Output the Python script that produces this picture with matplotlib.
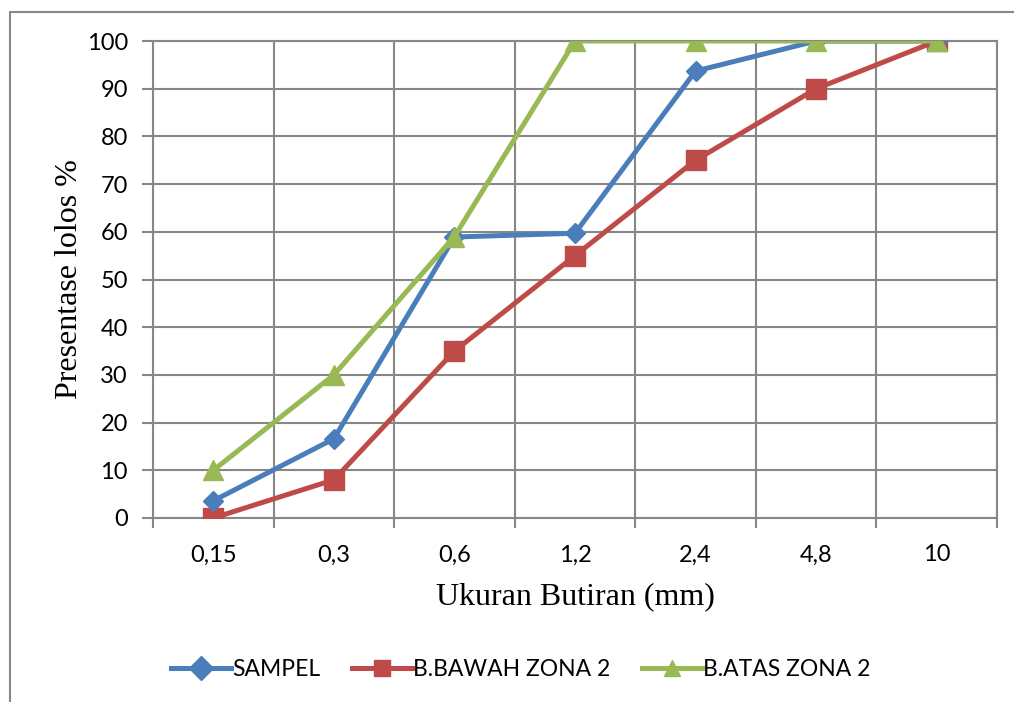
import numpy as np
import matplotlib.pyplot as plt
from matplotlib.patches import Rectangle

# sieve sizes (mm) and percent passing
sizes = ['0,15', '0,3', '0,6', '1,2', '2,4', '4,8', '10']
sampel = [3.6, 16.6, 58.9, 59.7, 93.7, 100, 100]
bawah = [0, 8, 35, 55, 75, 90, 100]
atas = [10, 30, 59, 100, 100, 100, 100]

grid_c = '#878787'

fig = plt.figure(figsize=(10.14, 7.02), dpi=100)
ax = fig.add_axes([153/1014, 1 - 518/702, (997 - 153)/1014, (518 - 41)/702])

# outer chart frame (partly cut off in the original)
fig.patches.append(Rectangle((10/1014, -0.1), 1.2, 1 - 12/702 + 0.1,
                             transform=fig.transFigure, fill=False,
                             edgecolor=grid_c, lw=1.5))

x = np.arange(len(sizes))
ax.plot(x, sampel, color='#4A7EBB', lw=3.6, marker='D', ms=10.5,
        label='SAMPEL', zorder=5)
ax.plot(x, bawah, color='#BE4B48', lw=3.6, marker='s', ms=14,
        label='B.BAWAH ZONA 2', zorder=4)
ax.plot(x, atas, color='#98B954', lw=3.6, marker='^', ms=14,
        label='B.ATAS ZONA 2', zorder=6)

ax.set_xlim(-0.5, len(sizes) - 0.5)
ax.set_ylim(0, 100)
ax.set_yticks(np.arange(0, 101, 10))
ax.set_xticks(x)
ax.set_xticklabels(sizes)
ax.set_xticks(np.arange(-0.5, len(sizes)), minor=True)

ax.grid(True, which='major', axis='y', color=grid_c, lw=1.5)
ax.grid(True, which='minor', axis='x', color=grid_c, lw=1.5)
ax.set_axisbelow(True)
for s in ax.spines.values():
    s.set_color(grid_c)
    s.set_linewidth(1.5)

ax.tick_params(axis='x', which='major', length=0, pad=19, labelsize=17)
ax.tick_params(axis='x', which='minor', length=7, width=1.5, color=grid_c)
ax.tick_params(axis='y', length=8, width=1.5, color=grid_c, pad=10, labelsize=17)
for lab in ax.get_xticklabels() + ax.get_yticklabels():
    lab.set_family(['Lato', 'DejaVu Sans'])

ax.set_xlabel('Ukuran Butiran (mm)', family='Liberation Serif', fontsize=23, labelpad=12)
ax.set_ylabel('Presentase lolos %', family='Liberation Serif', fontsize=23, labelpad=2)

leg = fig.legend(loc='center', bbox_to_anchor=(521/1014, 1 - 670/702), ncol=3,
                 frameon=False, handlelength=2.6, columnspacing=1.4,
                 handletextpad=0.05, prop={'family': 'Lato', 'size': 16.5})
for h in leg.legend_handles:
    h.set_markersize(12)

fig.savefig('out.png', dpi=100)
